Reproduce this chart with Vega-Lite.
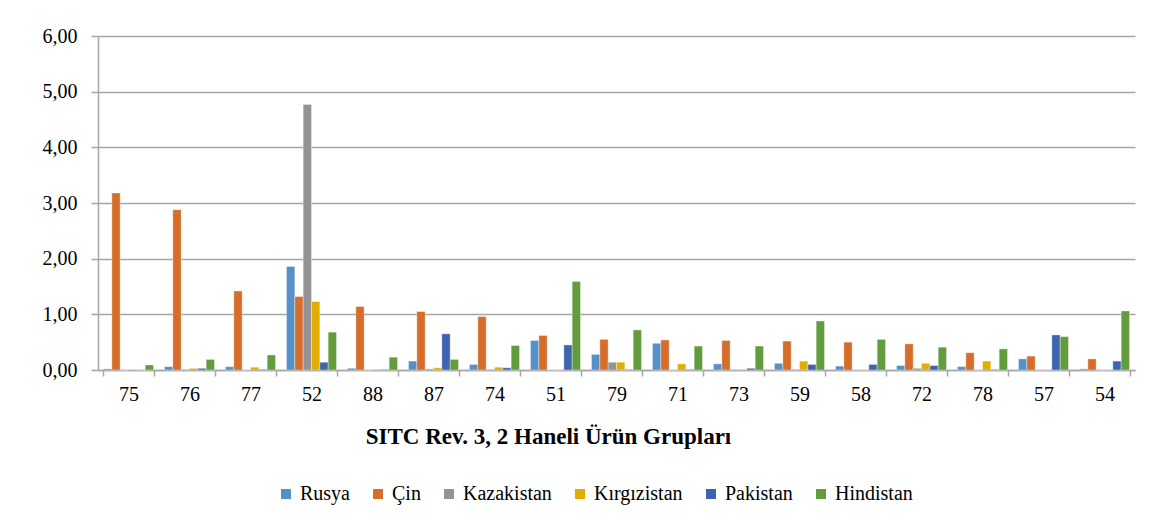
{
  "$schema": "https://vega.github.io/schema/vega-lite/v6.json",
  "width": 1037,
  "height": 334,
  "autosize": {"type": "none"},
  "padding": {"left": 98, "top": 36, "right": 38, "bottom": 158},
  "background": "white",
  "config": {
    "locale": {"number": {"decimal": ",", "thousands": ".", "grouping": [3], "currency": ["", ""]}},
    "font": "Liberation Serif",
    "view": {"stroke": null}
  },
  "data": {
    "values": [
      {"k":"75","s":"Rusya","v":0.02},{"k":"75","s":"Çin","v":3.18},{"k":"75","s":"Kazakistan","v":0.0},{"k":"75","s":"Kırgızistan","v":0.01},{"k":"75","s":"Pakistan","v":0.0},{"k":"75","s":"Hindistan","v":0.09},
      {"k":"76","s":"Rusya","v":0.06},{"k":"76","s":"Çin","v":2.88},{"k":"76","s":"Kazakistan","v":0.01},{"k":"76","s":"Kırgızistan","v":0.03},{"k":"76","s":"Pakistan","v":0.03},{"k":"76","s":"Hindistan","v":0.19},
      {"k":"77","s":"Rusya","v":0.06},{"k":"77","s":"Çin","v":1.42},{"k":"77","s":"Kazakistan","v":0.0},{"k":"77","s":"Kırgızistan","v":0.05},{"k":"77","s":"Pakistan","v":0.01},{"k":"77","s":"Hindistan","v":0.27},
      {"k":"52","s":"Rusya","v":1.86},{"k":"52","s":"Çin","v":1.32},{"k":"52","s":"Kazakistan","v":4.77},{"k":"52","s":"Kırgızistan","v":1.23},{"k":"52","s":"Pakistan","v":0.14},{"k":"52","s":"Hindistan","v":0.68},
      {"k":"88","s":"Rusya","v":0.03},{"k":"88","s":"Çin","v":1.14},{"k":"88","s":"Kazakistan","v":0.0},{"k":"88","s":"Kırgızistan","v":0.01},{"k":"88","s":"Pakistan","v":0.01},{"k":"88","s":"Hindistan","v":0.23},
      {"k":"87","s":"Rusya","v":0.16},{"k":"87","s":"Çin","v":1.05},{"k":"87","s":"Kazakistan","v":0.02},{"k":"87","s":"Kırgızistan","v":0.04},{"k":"87","s":"Pakistan","v":0.65},{"k":"87","s":"Hindistan","v":0.19},
      {"k":"74","s":"Rusya","v":0.10},{"k":"74","s":"Çin","v":0.96},{"k":"74","s":"Kazakistan","v":0.01},{"k":"74","s":"Kırgızistan","v":0.05},{"k":"74","s":"Pakistan","v":0.04},{"k":"74","s":"Hindistan","v":0.44},
      {"k":"51","s":"Rusya","v":0.53},{"k":"51","s":"Çin","v":0.62},{"k":"51","s":"Kazakistan","v":0.0},{"k":"51","s":"Kırgızistan","v":0.0},{"k":"51","s":"Pakistan","v":0.45},{"k":"51","s":"Hindistan","v":1.59},
      {"k":"79","s":"Rusya","v":0.28},{"k":"79","s":"Çin","v":0.55},{"k":"79","s":"Kazakistan","v":0.14},{"k":"79","s":"Kırgızistan","v":0.14},{"k":"79","s":"Pakistan","v":0.01},{"k":"79","s":"Hindistan","v":0.72},
      {"k":"71","s":"Rusya","v":0.48},{"k":"71","s":"Çin","v":0.54},{"k":"71","s":"Kazakistan","v":0.0},{"k":"71","s":"Kırgızistan","v":0.11},{"k":"71","s":"Pakistan","v":0.01},{"k":"71","s":"Hindistan","v":0.43},
      {"k":"73","s":"Rusya","v":0.11},{"k":"73","s":"Çin","v":0.53},{"k":"73","s":"Kazakistan","v":0.01},{"k":"73","s":"Kırgızistan","v":0.01},{"k":"73","s":"Pakistan","v":0.03},{"k":"73","s":"Hindistan","v":0.43},
      {"k":"59","s":"Rusya","v":0.12},{"k":"59","s":"Çin","v":0.52},{"k":"59","s":"Kazakistan","v":0.01},{"k":"59","s":"Kırgızistan","v":0.16},{"k":"59","s":"Pakistan","v":0.10},{"k":"59","s":"Hindistan","v":0.88},
      {"k":"58","s":"Rusya","v":0.07},{"k":"58","s":"Çin","v":0.50},{"k":"58","s":"Kazakistan","v":0.0},{"k":"58","s":"Kırgızistan","v":0.0},{"k":"58","s":"Pakistan","v":0.10},{"k":"58","s":"Hindistan","v":0.55},
      {"k":"72","s":"Rusya","v":0.08},{"k":"72","s":"Çin","v":0.47},{"k":"72","s":"Kazakistan","v":0.03},{"k":"72","s":"Kırgızistan","v":0.12},{"k":"72","s":"Pakistan","v":0.08},{"k":"72","s":"Hindistan","v":0.41},
      {"k":"78","s":"Rusya","v":0.06},{"k":"78","s":"Çin","v":0.31},{"k":"78","s":"Kazakistan","v":0.0},{"k":"78","s":"Kırgızistan","v":0.16},{"k":"78","s":"Pakistan","v":0.01},{"k":"78","s":"Hindistan","v":0.38},
      {"k":"57","s":"Rusya","v":0.20},{"k":"57","s":"Çin","v":0.25},{"k":"57","s":"Kazakistan","v":0.0},{"k":"57","s":"Kırgızistan","v":0.0},{"k":"57","s":"Pakistan","v":0.63},{"k":"57","s":"Hindistan","v":0.60},
      {"k":"54","s":"Rusya","v":0.02},{"k":"54","s":"Çin","v":0.20},{"k":"54","s":"Kazakistan","v":0.0},{"k":"54","s":"Kırgızistan","v":0.0},{"k":"54","s":"Pakistan","v":0.16},{"k":"54","s":"Hindistan","v":1.06}
    ]
  },
  "mark": {"type": "bar", "stroke": "white", "strokeWidth": 0.6, "strokeOpacity": 0.6},
  "encoding": {
    "x": {
      "field": "k", "type": "nominal",
      "sort": ["75","76","77","52","88","87","74","51","79","71","73","59","58","72","78","57","54"],
      "scale": {"paddingInner": 0.18, "paddingOuter": 0.09},
      "axis": {
        "title": "SITC Rev. 3, 2 Haneli Ürün Grupları",
        "titleFont": "Liberation Serif", "titleFontSize": 23, "titleFontWeight": "bold", "titleColor": "#000000",
        "titlePadding": 21, "titleX": 450, "titleAnchor": null,
        "labelAngle": 0, "labelFont": "Liberation Serif", "labelFontSize": 20, "labelColor": "#000000", "labelPadding": 8,
        "tickBand": "extent", "tickSize": 6, "tickColor": "#a6a6a6", "tickWidth": 1.5,
        "domainColor": "#a6a6a6", "domainWidth": 1.5
      }
    },
    "xOffset": {
      "field": "s", "type": "nominal",
      "sort": ["Rusya","Çin","Kazakistan","Kırgızistan","Pakistan","Hindistan"],
      "scale": {"paddingInner": 0, "paddingOuter": 0}
    },
    "y": {
      "field": "v", "type": "quantitative",
      "scale": {"domain": [0, 6]},
      "axis": {
        "title": null, "values": [0,1,2,3,4,5,6], "format": ".2f",
        "labelFont": "Liberation Serif", "labelFontSize": 20, "labelColor": "#000000", "labelPadding": 14,
        "gridColor": "#a6a6a6", "gridWidth": 1.5,
        "tickSize": 7, "tickColor": "#a6a6a6", "tickWidth": 1.5,
        "domainColor": "#a6a6a6", "domainWidth": 1.5
      }
    },
    "color": {
      "field": "s", "type": "nominal",
      "sort": ["Rusya","Çin","Kazakistan","Kırgızistan","Pakistan","Hindistan"],
      "scale": {
        "domain": ["Rusya","Çin","Kazakistan","Kırgızistan","Pakistan","Hindistan"],
        "range": ["#5590c8","#d56d2b","#939393","#e2ac00","#3d64b0","#629c3f"]
      },
      "legend": {
        "title": null, "orient": "none", "direction": "horizontal", "legendX": 178, "legendY": 448,
        "symbolType": "square", "symbolSize": 100, "symbolStrokeWidth": 0,
        "labelFont": "Liberation Serif", "labelFontSize": 20, "labelColor": "#000000",
        "columnPadding": 18, "labelOffset": 4
      }
    }
  }
}
